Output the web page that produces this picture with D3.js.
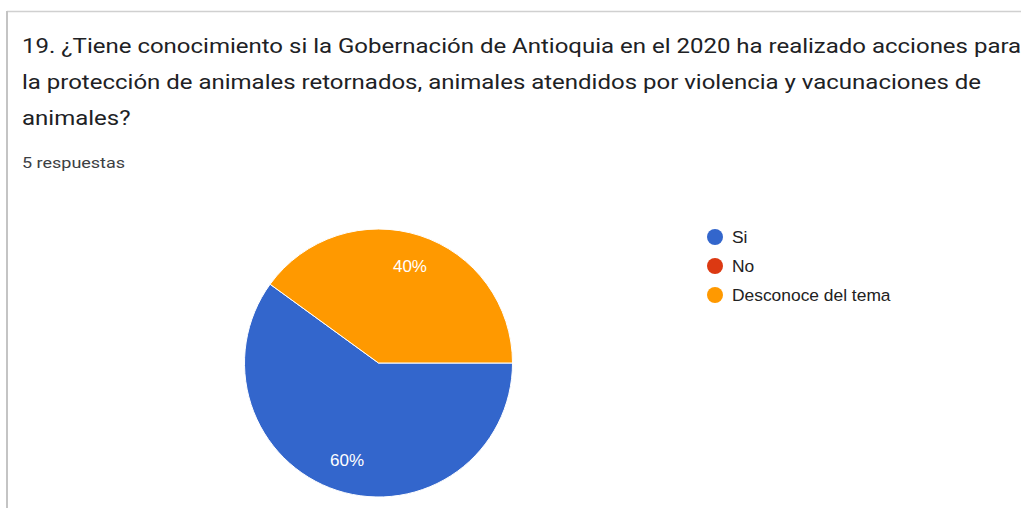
<!DOCTYPE html>
<html>
<head>
<meta charset="utf-8">
<script src="https://cdn.jsdelivr.net/npm/d3@7"></script>
<style>
  html, body { margin: 0; padding: 0; background: #fff; }
  svg { display: block; }
</style>
</head>
<body>
<svg id="chart" width="1021" height="508"></svg>
<script>
// Survey question and response summary
const titleLines = [
  "19. ¿Tiene conocimiento si la Gobernación de Antioquia en el 2020 ha realizado acciones para",
  "la protección de animales retornados, animales atendidos por violencia y vacunaciones de",
  "animales?"
];
const responsesLabel = "5 respuestas";

// Answer categories and their counts
const categories = ["Si", "No", "Desconoce del tema"];
const counts = [3, 0, 2];
const colors = ["#3366cc", "#dc3912", "#ff9900"];

const svg = d3.select("#chart");

// Card border (top and left edges)
svg.append("line").attr("x1", 7).attr("x2", 1021).attr("y1", 11.5).attr("y2", 11.5)
  .attr("stroke", "#d0d0d0").attr("stroke-width", 1.5);
svg.append("line").attr("x1", 7).attr("x2", 7).attr("y1", 11).attr("y2", 508)
  .attr("stroke", "#c4c4c4").attr("stroke-width", 2);

// Header text uses a wide setting of Roboto
const header = svg.append("g").attr("transform", "translate(22,0) scale(1.2,1)")
  .attr("font-family", "Roboto, Arial, sans-serif").attr("fill", "#202124");

header.selectAll("text.title").data(titleLines).join("text")
  .attr("class", "title")
  .attr("x", 0)
  .attr("y", (d, i) => 53.5 + i * 36)
  .attr("font-size", 20)
  .text(d => d);

header.append("text")
  .attr("x", 0).attr("y", 168)
  .attr("font-size", 15).attr("fill", "#3c4043")
  .text(responsesLabel);

// Pie
const cx = 378.5, cy = 363, radius = 134;
const data = categories.map((c, i) => ({ name: c, value: counts[i], color: colors[i] }));
const total = d3.sum(counts);

const pie = d3.pie().sort(null).value(d => d.value)
  .startAngle(Math.PI / 2).endAngle(Math.PI / 2 + 2 * Math.PI);
const arcs = pie(data);
const arc = d3.arc().innerRadius(0).outerRadius(radius);
const labelArc = d3.arc().innerRadius(radius * 0.76).outerRadius(radius * 0.76);

const g = svg.append("g").attr("transform", `translate(${cx},${cy})`);
g.selectAll("path").data(arcs.filter(d => d.data.value > 0)).join("path")
  .attr("d", arc)
  .attr("fill", d => d.data.color)
  .attr("stroke", "#ffffff")
  .attr("stroke-width", 1);

const pct = d3.format(".0%");
g.selectAll("text.slice").data(arcs.filter(d => d.data.value > 0)).join("text")
  .attr("class", "slice")
  .attr("transform", d => `translate(${labelArc.centroid(d)})`)
  .attr("text-anchor", "middle")
  .attr("dy", "0.36em")
  .attr("font-family", "Arial, 'Liberation Sans', sans-serif")
  .attr("font-size", 17)
  .attr("fill", "#ffffff")
  .text(d => pct(d.data.value / total));

// Legend
const legend = svg.append("g").attr("transform", "translate(715,237)");
const items = legend.selectAll("g").data(data).join("g")
  .attr("transform", (d, i) => `translate(0,${i * 29})`);
items.append("circle").attr("r", 8).attr("fill", d => d.color);
items.append("text")
  .attr("x", 17).attr("dy", "0.36em")
  .attr("font-family", "Arial, 'Liberation Sans', sans-serif")
  .attr("font-size", 17.4).attr("fill", "#222222")
  .text(d => d.name);
</script>
</body>
</html>
